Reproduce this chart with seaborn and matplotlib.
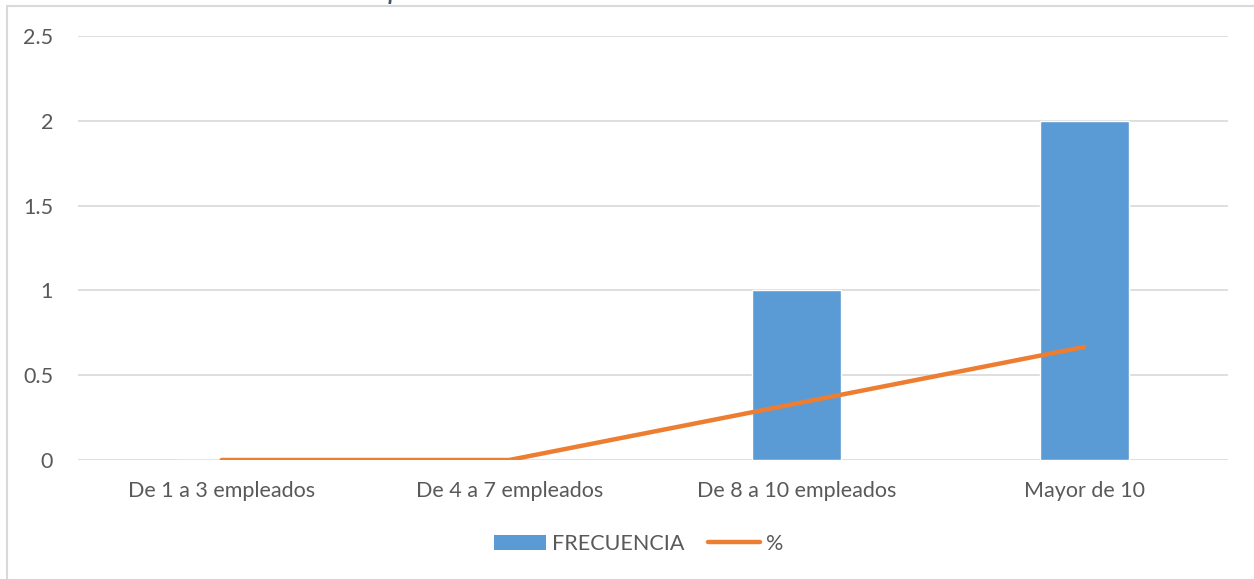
import numpy as np
import pandas as pd
import matplotlib
matplotlib.use("Agg")
import matplotlib.pyplot as plt
import seaborn as sns
from matplotlib.patches import Rectangle, Patch
from matplotlib.lines import Line2D

# datos de la gráfica
categorias = ["De 1 a 3 empleados", "De 4 a 7 empleados", "De 8 a 10 empleados", "Mayor de 10"]
frecuencia = [0, 0, 1, 2]
porcentaje = [0, 0, 0.3333, 0.6667]
titulo = "Ilustración 4. Número de empleados"

AZUL = "#5b9bd5"
NARANJA = "#ed7d31"
GRIS_TXT = "#595959"
GRIS_GRID = "#d9d9d9"

sns.set_theme(style="white")
plt.rcParams["font.family"] = ["Lato", "DejaVu Sans"]

df = pd.DataFrame({"categoria": categorias, "FRECUENCIA": frecuencia, "pct": porcentaje})

fig = plt.figure(figsize=(12.54, 5.79), dpi=100)
ax = fig.add_axes([78 / 1254, 1 - 460 / 579, 1150 / 1254, 424 / 579])

sns.barplot(data=df, x="categoria", y="FRECUENCIA", order=categorias,
            color=AZUL, saturation=1, width=0.31, ax=ax, zorder=2)
sns.lineplot(x=np.arange(len(categorias)), y=df["pct"], color=NARANJA,
             linewidth=3.2, ax=ax, zorder=3, solid_capstyle="round")

ax.set_xlim(-0.5, 3.5)
ax.set_ylim(0, 2.5)
ax.set_yticks([0, 0.5, 1, 1.5, 2, 2.5])
ax.set_yticklabels(["0", "0.5", "1", "1.5", "2", "2.5"])
ax.set_xlabel(""); ax.set_ylabel("")
ax.grid(axis="y", color=GRIS_GRID, linewidth=1.2, zorder=0)
ax.set_axisbelow(True)
for s in ax.spines.values():
    s.set_visible(False)
ax.tick_params(axis="both", length=0, labelsize=15.5, labelcolor=GRIS_TXT)
ax.tick_params(axis="y", pad=18)
ax.tick_params(axis="x", pad=15)

# marco exterior del gráfico
fig.patches.append(Rectangle((7 / 1254, -0.01), 1.0, 1 - 6 / 579 + 0.01,
                             transform=fig.transFigure, fill=False,
                             edgecolor=GRIS_GRID, linewidth=1.5))

# título recortado arriba (solo se ve la parte baja)
fig.text(20 / 1254, 1 + 1.5 / 579, titulo, fontsize=22.5, style="italic",
         color="#44546a", va="baseline", ha="left")

handles = [Patch(facecolor=AZUL, edgecolor="none"),
           Line2D([0], [0], color=NARANJA, linewidth=3.2, solid_capstyle="round")]
fig.legend(handles, ["FRECUENCIA", "%"], loc="center", bbox_to_anchor=(639 / 1254, 1 - 544 / 579),
           ncol=2, frameon=False, fontsize=15.5, labelcolor=GRIS_TXT,
           handlelength=2.4, handleheight=0.7, handletextpad=0.3, columnspacing=1.1)

plt.savefig("out.png", dpi=100)
plt.close()
